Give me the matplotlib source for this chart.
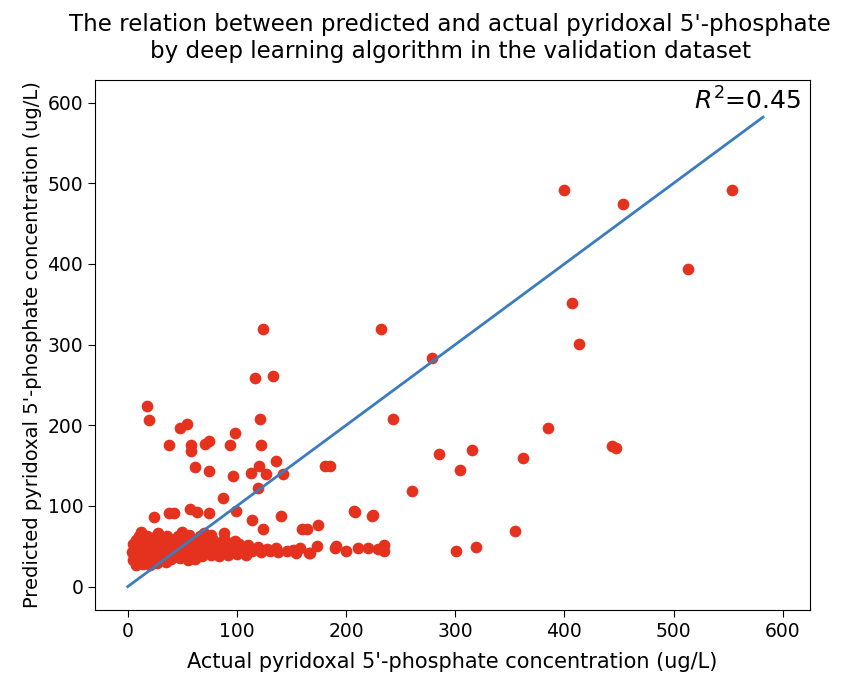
import matplotlib.pyplot as plt

# sparse points (actual, predicted)
outlier_x = [400, 554, 454, 513, 407, 413, 279, 232, 243, 385, 285, 315, 304, 362, 260,
             207, 224, 355, 301, 319, 444, 447, 185, 124, 117, 133, 18, 19.5, 121.5,
             48, 54, 38, 58, 58, 71, 74, 98, 94, 122, 62, 74, 96, 113, 120, 127, 136,
             142, 119, 87, 181, 24, 38, 42, 57, 63, 74, 99, 114, 124, 140, 164, 174,
             167, 190, 160, 208, 225]
outlier_y = [492, 492, 474, 394, 352, 301, 284, 319, 208, 196, 165, 169, 144, 160, 119,
             94, 88, 69, 44, 49, 174, 172, 149, 319, 258, 261, 224, 207, 208,
             197, 201, 175, 176, 168, 177, 181, 190, 175, 176, 148, 143, 137, 141, 150, 139, 156,
             139, 122, 110, 150, 86, 91, 91, 96, 93, 91, 94, 83, 71, 88, 71, 76,
             42, 48, 71, 93, 89]

# low-value cluster
cluster_x = [8, 14, 20, 27, 35,
             5, 12, 18, 25, 32, 40, 48, 55, 62,
             6, 10, 16, 22, 30, 37, 45, 52, 60, 68, 76, 84, 92, 100, 108,
             4, 9, 15, 21, 28, 34, 42, 50, 58, 66, 74, 82, 90, 98, 106, 114, 122, 130, 138, 146, 154,
             7, 13, 19, 26, 33, 40, 47, 55, 63, 71, 79, 87, 95, 103, 111, 119, 128, 136,
             5, 11, 18, 24, 31, 39, 46, 54, 62, 70, 78, 86, 94, 102, 110,
             8, 15, 22, 29, 36, 44, 52, 60, 69, 78, 88, 98,
             10, 18, 27, 36, 46, 56, 66, 76,
             12, 28, 50, 70, 88,
             151, 158, 166, 173, 191, 200, 211, 220, 229, 235, 235]
cluster_y = [27, 28, 27, 29, 30,
             33, 32, 33, 34, 33, 34, 35, 33, 34,
             38, 37, 38, 39, 38, 37, 38, 39, 38, 38, 39, 38, 39, 40, 39,
             43, 43, 44, 43, 43, 44, 43, 44, 43, 44, 43, 44, 43, 44, 43, 44, 43, 44, 43, 44, 42,
             48, 48, 49, 48, 48, 49, 48, 48, 49, 48, 49, 48, 49, 48, 48, 49, 47, 48,
             53, 53, 54, 53, 53, 54, 53, 54, 53, 54, 53, 53, 54, 53, 52,
             58, 58, 59, 58, 58, 59, 58, 59, 58, 58, 59, 57,
             63, 63, 64, 63, 63, 64, 63, 64,
             68, 67, 68, 67, 66,
             45, 48, 42, 50, 50, 44, 48, 48, 46, 52, 44]

line_x = [0, 582]
line_y = [0, 582]

fig = plt.figure(figsize=(8.41, 6.76), dpi=100)
ax = fig.add_axes([95 / 841, 66 / 676, 715 / 841, 530 / 676])

ax.scatter(cluster_x, cluster_y, s=55, color="#e5321f", zorder=2)
ax.scatter(outlier_x, outlier_y, s=55, color="#e5321f", zorder=2)
ax.plot(line_x, line_y, color="#3a7cbd", lw=2, zorder=3)
ax.text(519, 591, "$R^2$=0.45", fontsize=18)

ax.set_xlim(-30, 625)
ax.set_ylim(-29, 628)
ax.set_xticks([0, 100, 200, 300, 400, 500, 600])
ax.set_yticks([0, 100, 200, 300, 400, 500, 600])
ax.tick_params(labelsize=13.5, length=5)

ax.set_title("The relation between predicted and actual pyridoxal 5'-phosphate\n"
             "by deep learning algorithm in the validation dataset",
             fontsize=16.6, pad=16, x=0.497)
ax.set_xlabel("Actual pyridoxal 5'-phosphate concentration (ug/L)", fontsize=15, labelpad=8)
ax.set_ylabel("Predicted pyridoxal 5'-phosphate concentration (ug/L)", fontsize=14)

fig.savefig("out.png", dpi=100)
